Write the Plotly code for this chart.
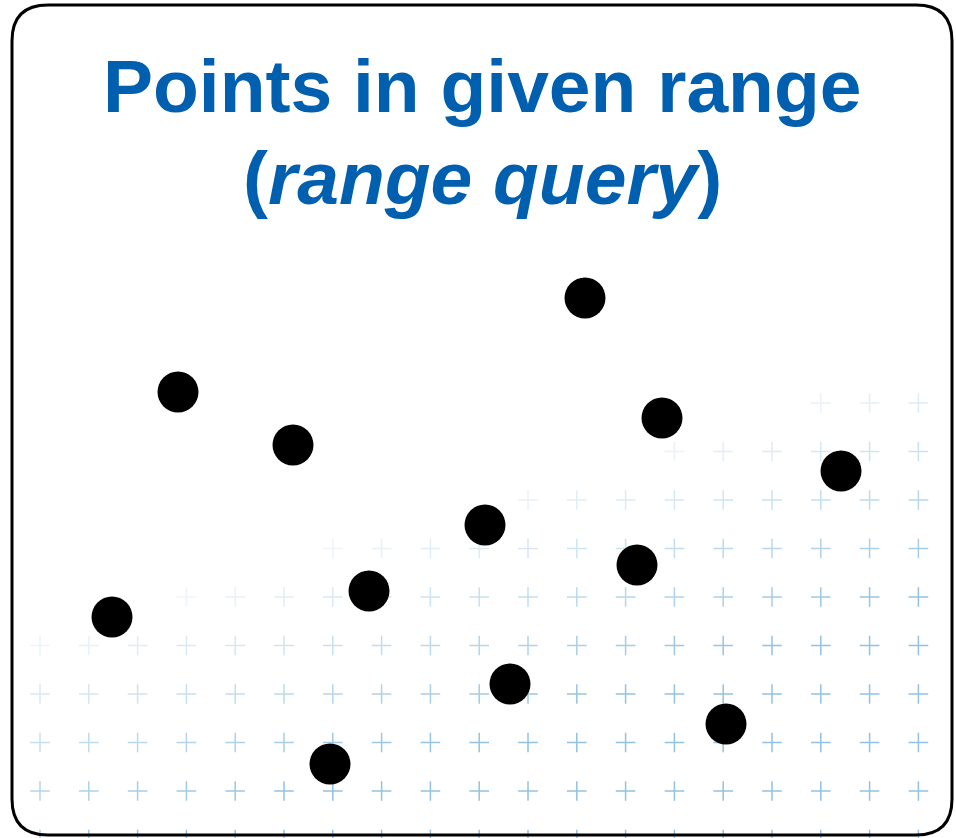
import plotly.graph_objects as go

# Point set (screen-like coordinates: x to the right, y downward)
point_x = [585, 178, 662, 293, 841, 485, 637, 369, 112, 510, 726, 330]
point_y = [298, 392, 418, 445, 471, 525, 565, 591, 617, 684, 724, 764]

title_line1 = "<b>Points in given range</b>"
title_line2 = "<b>(<i>range query</i>)</b>"

# Decorative background grid of plus signs
grid_cols = [40 + 48.8 * i for i in range(19)]
grid_rows = [403 + 48.5 * j for j in range(10)]

W, H = 956, 838
gx, gy, ga = [], [], []
for yy in grid_rows:
    for xx in grid_cols:
        a = (yy - (650 - 0.32 * xx)) / 240.0
        a = max(0.0, min(1.0, a))
        if a > 0.02:
            gx.append(xx)
            gy.append(yy)
            ga.append(0.1 + 0.62 * a)

fig = go.Figure()
fig.add_trace(go.Scatter(
    x=gx, y=gy, mode="markers", hoverinfo="skip",
    marker=dict(symbol="cross-thin", size=14, opacity=ga,
                color="rgb(105,172,216)",
                line=dict(width=1.5, color="rgb(105,172,216)")),
))
fig.add_trace(go.Scatter(
    x=point_x, y=point_y, mode="markers",
    marker=dict(size=41, color="black", line=dict(width=0)),
))

blue = "#0060AF"
fig.add_annotation(x=482, y=130, xref="x", yref="y", text=title_line1,
                   showarrow=False, yanchor="bottom", xanchor="center",
                   font=dict(family="Liberation Sans, Arial", size=75, color=blue))
fig.add_annotation(x=482, y=222, xref="x", yref="y", text=title_line2,
                   showarrow=False, yanchor="bottom", xanchor="center",
                   font=dict(family="Liberation Sans, Arial", size=75, color=blue))

r = 36
x0, x1, y0, y1 = 12, 952, 5, 835
path = (f"M {x0+r},{y0} L {x1-r},{y0} Q {x1},{y0} {x1},{y0+r} "
        f"L {x1},{y1-r} Q {x1},{y1} {x1-r},{y1} "
        f"L {x0+r},{y1} Q {x0},{y1} {x0},{y1-r} "
        f"L {x0},{y0+r} Q {x0},{y0} {x0+r},{y0} Z")
fig.add_shape(type="path", path=path, xref="x", yref="y",
              line=dict(color="black", width=3), layer="above")

fig.update_layout(
    width=W, height=H, margin=dict(l=0, r=0, t=0, b=0),
    paper_bgcolor="white", plot_bgcolor="white", showlegend=False,
    xaxis=dict(range=[0, W], visible=False, fixedrange=True),
    yaxis=dict(range=[H, 0], visible=False, fixedrange=True),
)
fig.write_html("out.html", config={"displayModeBar": False},
               post_script="document.body.style.margin='0';document.body.style.overflow='hidden';")
